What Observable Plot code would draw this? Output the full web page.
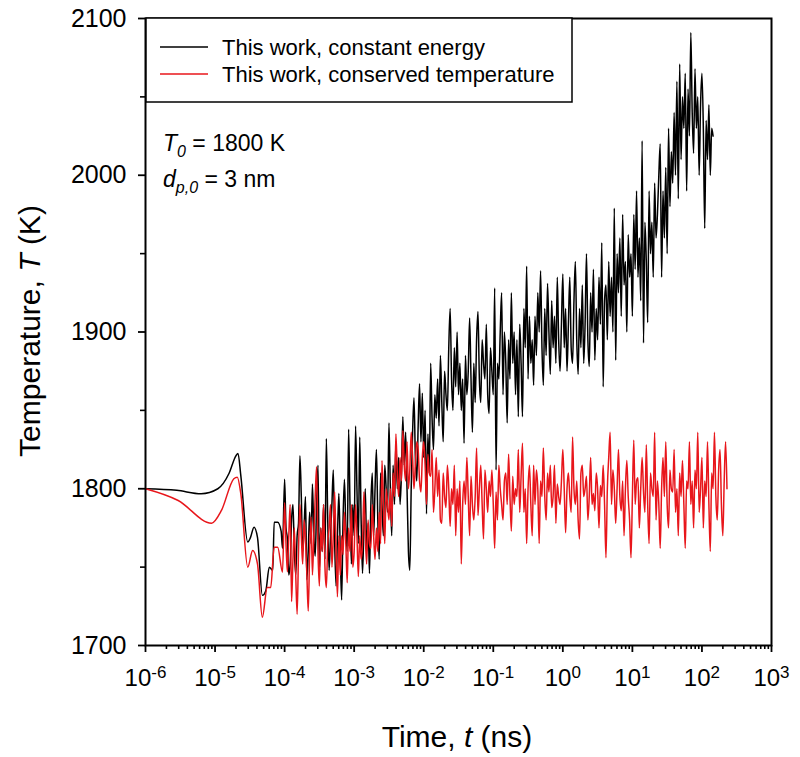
<!DOCTYPE html>
<html>
<head>
<meta charset="utf-8">
<script src="https://cdn.jsdelivr.net/npm/d3@7"></script>
<script src="https://cdn.jsdelivr.net/npm/@observablehq/plot@0.6"></script>
<style>
  html, body { margin: 0; padding: 0; background: #fff; }
  svg { display: block; }
</style>
</head>
<body>
<div id="chart"></div>
<script>
// ---------- data (time given as log10 of t in ns) ----------
const blackEarlyLog = [-6.00,-5.55,-5.20,-4.96,-4.80,-4.70,-4.67,-4.63,-4.53,-4.49,-4.44,-4.39,-4.32,-4.27,-4.22,-4.17,-4.15,-4.10,-4.05,-4.03];
const blackEarlyT   = [1800,1799,1796.8,1800,1809.7,1821,1822.5,1808.5,1766,1769,1775.5,1769,1732,1735,1750,1748,1778.7,1778.7,1773,1762];

const redEarlyLog = [-6.00,-5.53,-5.05,-4.91,-4.73,-4.68,-4.63,-4.53,-4.46,-4.39,-4.32,-4.25,-4.20,-4.15,-4.10,-4.03];
const redEarlyT   = [1800,1792.5,1778,1786,1806.4,1807.4,1797,1750,1760.6,1752,1718,1737,1737,1762.7,1762.7,1746.8];

const noisyLog = [
-4.00,-3.98,-3.96,-3.94,-3.92,-3.90,-3.88,-3.86,-3.84,-3.82,
-3.80,-3.78,-3.76,-3.74,-3.72,-3.70,-3.68,-3.66,-3.64,-3.62,
-3.60,-3.58,-3.56,-3.54,-3.52,-3.50,-3.48,-3.46,-3.44,-3.42,
-3.40,-3.38,-3.36,-3.34,-3.32,-3.30,-3.28,-3.26,-3.24,-3.22,
-3.20,-3.18,-3.16,-3.14,-3.12,-3.10,-3.08,-3.06,-3.04,-3.02,
-3.00,-2.98,-2.96,-2.94,-2.92,-2.90,-2.88,-2.86,-2.84,-2.82,
-2.80,-2.78,-2.76,-2.74,-2.72,-2.70,-2.68,-2.66,-2.64,-2.62,
-2.60,-2.58,-2.56,-2.54,-2.52,-2.50,-2.48,-2.46,-2.44,-2.42,
-2.40,-2.38,-2.36,-2.34,-2.32,-2.30,-2.28,-2.26,-2.24,-2.22,
-2.20,-2.18,-2.16,-2.14,-2.12,-2.10,-2.08,-2.06,-2.04,-2.02,
-2.00,-1.98,-1.96,-1.94,-1.92,-1.90,-1.88,-1.86,-1.84,-1.82,
-1.80,-1.78,-1.76,-1.74,-1.72,-1.70,-1.68,-1.66,-1.64,-1.62,
-1.60,-1.58,-1.56,-1.54,-1.52,-1.50,-1.48,-1.46,-1.44,-1.42,
-1.40,-1.38,-1.36,-1.34,-1.32,-1.30,-1.28,-1.26,-1.24,-1.22,
-1.20,-1.18,-1.16,-1.14,-1.12,-1.10,-1.08,-1.06,-1.04,-1.02,
-1.00,-0.98,-0.96,-0.94,-0.92,-0.90,-0.88,-0.86,-0.84,-0.82,
-0.80,-0.78,-0.76,-0.74,-0.72,-0.70,-0.68,-0.66,-0.64,-0.62,
-0.60,-0.58,-0.56,-0.54,-0.52,-0.50,-0.48,-0.46,-0.44,-0.42,
-0.40,-0.38,-0.36,-0.34,-0.32,-0.30,-0.28,-0.26,-0.24,-0.22,
-0.20,-0.18,-0.16,-0.14,-0.12,-0.10,-0.08,-0.06,-0.04,-0.02,
0.00,0.02,0.04,0.06,0.08,0.10,0.12,0.14,0.16,0.18,
0.20,0.22,0.24,0.26,0.28,0.30,0.32,0.34,0.36,0.38,
0.40,0.42,0.44,0.46,0.48,0.50,0.52,0.54,0.56,0.58,
0.60,0.62,0.64,0.66,0.68,0.70,0.72,0.74,0.76,0.78,
0.80,0.82,0.84,0.86,0.88,0.90,0.92,0.94,0.96,0.98,
1.00,1.02,1.04,1.06,1.08,1.10,1.12,1.14,1.16,1.18,
1.20,1.22,1.24,1.26,1.28,1.30,1.32,1.34,1.36,1.38,
1.40,1.42,1.44,1.46,1.48,1.50,1.52,1.54,1.56,1.58,
1.60,1.62,1.64,1.66,1.68,1.70,1.72,1.74,1.76,1.78,
1.80,1.82,1.84,1.86,1.88,1.90,1.92,1.94,1.96,1.98,
2.00,2.02,2.04,2.06,2.08,2.10,2.12,2.14,2.16,2.18,
2.20,2.22,2.24,2.26,2.28,2.30,2.32,2.34,2.36];

const blackNoisyT = [
1806,1775,1768,1745,1752,1780,1790,1760,1745,1770,
1778,1821,1795,1760,1775,1795,1742,1760,1785,1765,
1803,1770,1757,1790,1815,1748,1775,1760,1790,1755,
1832,1780,1748,1770,1790,1812,1765,1738,1770,1797,
1760,1729,1780,1806,1775,1760,1838,1790,1752,1790,
1770,1840,1800,1765,1833,1780,1746,1775,1800,1760,
1778,1746,1790,1810,1770,1800,1825,1780,1755,1810,
1790,1770,1815,1800,1785,1842,1800,1770,1815,1790,
1830,1800,1820,1790,1810,1846,1815,1836,1800,1760,
1748,1800,1836,1858,1820,1805,1840,1867,1830,1861,
1820,1850,1784,1835,1810,1880,1845,1825,1860,1845,
1870,1840,1885,1855,1830,1875,1860,1850,1890,1915,
1870,1850,1890,1865,1900,1860,1880,1850,1870,1829,
1885,1860,1875,1909,1870,1836,1880,1855,1895,1913,
1870,1855,1895,1880,1870,1905,1860,1848,1890,1875,
1860,1928,1812,1880,1870,1900,1925,1860,1900,1880,
1842,1895,1870,1925,1880,1900,1860,1895,1846,1905,
1880,1846,1915,1890,1942,1870,1910,1880,1895,1866,
1910,1885,1925,1900,1939,1890,1866,1915,1885,1931,
1900,1873,1920,1890,1910,1880,1935,1895,1875,1905,
1937,1890,1915,1875,1905,1935,1890,1880,1920,1945,
1895,1873,1915,1890,1930,1880,1905,1950,1895,1878,
1925,1900,1940,1882,1915,1895,1935,1905,1957,1865,
1920,1930,1895,1945,1910,1935,1900,1979,1882,1950,
1925,1960,1910,1975,1930,1945,1900,1962,1935,1950,
1910,1975,1940,1990,1935,1960,1920,2022,1893,1970,
1945,1906,1990,1950,1970,1935,1995,1960,1975,2000,
2020,1935,1990,1960,2005,1950,2030,1980,2015,1995,
2040,2000,2060,1985,2071,2010,2050,2030,2065,1990,
2055,2025,2091,2040,2014,2068,2030,2050,2000,2045,
2065,2030,1966,2035,2010,2045,2000,2030,2025];

const redNoisyT = [
1791,1765,1747,1770,1790,1728,1755,1775,1745,1720,
1760,1790,1770,1752,1780,1768,1745,1722,1760,1782,
1745,1770,1795,1814,1760,1738,1775,1760,1790,1750,
1737,1765,1775,1790,1750,1770,1798,1760,1731,1770,
1745,1770,1758,1785,1765,1740,1775,1760,1790,1750,
1760,1790,1770,1744,1770,1755,1765,1798,1770,1752,
1780,1765,1762,1790,1770,1755,1775,1760,1785,1765,
1818,1790,1765,1800,1790,1780,1800,1776,1810,1795,
1835,1810,1795,1820,1805,1837,1815,1805,1830,1800,
1812,1836,1820,1800,1816,1830,1825,1805,1798,1820,
1830,1815,1790,1822,1810,1808,1825,1785,1800,1820,
1795,1812,1780,1778,1810,1795,1788,1815,1800,1776,
1800,1790,1815,1770,1800,1785,1805,1752,1790,1805,
1790,1820,1795,1770,1808,1790,1780,1795,1826,1783,
1800,1815,1790,1768,1812,1800,1785,1805,1795,1812,
1790,1762,1798,1780,1815,1800,1790,1780,1805,1810,
1790,1822,1795,1773,1808,1790,1800,1795,1825,1785,
1808,1829,1785,1800,1765,1800,1815,1790,1770,1815,
1790,1812,1800,1765,1805,1795,1826,1795,1780,1810,
1798,1815,1788,1795,1815,1778,1803,1795,1790,1805,
1825,1800,1772,1800,1810,1795,1785,1833,1800,1790,
1805,1780,1768,1810,1815,1795,1800,1808,1780,1795,
1820,1790,1797,1786,1810,1800,1775,1802,1795,1815,
1790,1756,1800,1820,1836,1790,1812,1800,1778,1800,
1825,1795,1786,1805,1770,1800,1818,1795,1780,1756,
1795,1831,1790,1805,1807,1775,1800,1820,1798,1785,
1828,1790,1765,1810,1800,1795,1836,1780,1805,1790,
1762,1800,1820,1795,1830,1790,1775,1812,1800,1798,
1825,1785,1800,1770,1810,1795,1818,1790,1762,1805,
1800,1830,1790,1805,1775,1812,1800,1836,1785,1800,
1820,1775,1805,1795,1830,1790,1760,1810,1800,1836,
1795,1780,1812,1825,1790,1770,1805,1830,1800];

const seriesNames = ["This work, constant energy", "This work, conserved temperature"];
const seriesColors = ["#000000", "#e8161b"];
const majorExponents = [-6,-5,-4,-3,-2,-1,0,1,2,3];
const yMajorTicks = [1700,1800,1900,2000,2100];
const yMinorTicks = [1750,1850,1950,2050];

// ---------- build table ----------
function build(name, logs, temps) {
  const out = [];
  const n = Math.min(logs.length, temps.length);
  for (let i = 0; i < n; i++) out.push({series: name, t: Math.pow(10, logs[i]), T: temps[i]});
  return out;
}
const blackRows = build(seriesNames[0], blackEarlyLog.concat(noisyLog), blackEarlyT.concat(blackNoisyT));
const redRows   = build(seriesNames[1], redEarlyLog.concat(noisyLog), redEarlyT.concat(redNoisyT));

const xMajor = majorExponents.map(e => Math.pow(10, e));
const xMinor = [];
for (const e of majorExponents.slice(0, -1)) for (let k = 2; k <= 9; k++) xMinor.push(k * Math.pow(10, e));

const FONT = "'Liberation Sans', Arial, Helvetica, sans-serif";

const chart = Plot.plot({
  width: 800,
  height: 757,
  marginLeft: 145,
  marginRight: 29,
  marginTop: 18,
  marginBottom: 112,
  style: {fontFamily: FONT, fontSize: "24px", color: "#000", background: "#fff", overflow: "visible"},
  x: {type: "log", domain: [1e-6, 1e3], label: null},
  y: {domain: [1700, 2100], label: null},
  marks: [
    Plot.line(blackRows, {x: "t", y: "T", stroke: seriesColors[0], strokeWidth: 1.5, curve: "monotone-x"}),
    Plot.line(redRows, {x: "t", y: "T", stroke: seriesColors[1], strokeWidth: 1.5, curve: "monotone-x"}),
    Plot.axisX({ticks: xMinor, tickSize: 4, strokeWidth: 1.6, tickFormat: () => "", label: null}),
    Plot.axisX({ticks: xMajor, tickSize: 7, strokeWidth: 1.8, tickPadding: 16, label: null,
                tickFormat: d => "10^" + Math.round(Math.log10(d)), fontSize: 24}),
    Plot.axisY({ticks: yMinorTicks, tickSize: 5, strokeWidth: 1.6, tickFormat: () => "", label: null}),
    Plot.axisY({ticks: yMajorTicks, tickSize: 7, strokeWidth: 1.8, tickPadding: 12, label: null,
                tickFormat: d => String(d), fontSize: 25}),
    Plot.frame({stroke: "#000", strokeWidth: 2})
  ]
});

document.getElementById("chart").appendChild(chart);

// ---------- superscripts on x tick labels ----------
const svg = d3.select(chart.tagName.toLowerCase() === "svg" ? chart : chart.querySelector("svg"));
svg.selectAll("text").each(function() {
  const s = this.textContent;
  if (s && s.startsWith("10^")) {
    const exp = s.slice(3);
    const t = d3.select(this);
    t.text(null);
    t.append("tspan").text("10");
    t.append("tspan").attr("dy", "-0.42em").attr("font-size", "17px").text(exp);
  }
});

// ---------- axis titles ----------
const xt = svg.append("text")
  .attr("x", 457).attr("y", 747)
  .attr("text-anchor", "middle")
  .attr("font-family", FONT).attr("font-size", "30px").attr("fill", "#000");
xt.append("tspan").text("Time, ");
xt.append("tspan").attr("font-style", "italic").text("t");
xt.append("tspan").text(" (ns)");

const yt = svg.append("text")
  .attr("transform", "translate(40,331) rotate(-90)")
  .attr("text-anchor", "middle")
  .attr("font-family", FONT).attr("font-size", "30px").attr("fill", "#000");
yt.append("tspan").text("Temperature, ");
yt.append("tspan").attr("font-style", "italic").text("T");
yt.append("tspan").text(" (K)");

// ---------- legend ----------
const lg = svg.append("g");
lg.append("rect").attr("x", 146).attr("y", 18).attr("width", 426).attr("height", 84)
  .attr("fill", "#fff").attr("stroke", "#000").attr("stroke-width", 1.5);
seriesNames.forEach((name, i) => {
  const yy = 47 + i * 27;
  lg.append("line").attr("x1", 160).attr("x2", 208).attr("y1", yy).attr("y2", yy)
    .attr("stroke", seriesColors[i]).attr("stroke-width", 1.5);
  lg.append("text").attr("x", 222).attr("y", yy + 8).attr("text-anchor", "start")
    .attr("font-family", FONT).attr("font-size", "22px").attr("fill", "#000").text(name);
});

// ---------- annotation ----------
const a1 = svg.append("text").attr("x", 163).attr("y", 151).attr("text-anchor", "start")
  .attr("font-family", FONT).attr("font-size", "23px").attr("fill", "#000");
a1.append("tspan").attr("font-style", "italic").text("T");
a1.append("tspan").attr("font-style", "italic").attr("font-size", "16px").attr("dy", "6").text("0");
a1.append("tspan").attr("dy", "-6").text(" = 1800 K");

const a2 = svg.append("text").attr("x", 163).attr("y", 187).attr("text-anchor", "start")
  .attr("font-family", FONT).attr("font-size", "23px").attr("fill", "#000");
a2.append("tspan").attr("font-style", "italic").text("d");
a2.append("tspan").attr("font-style", "italic").attr("font-size", "16px").attr("dy", "6").text("p,0");
a2.append("tspan").attr("dy", "-6").text(" = 3 nm");
</script>
</body>
</html>
